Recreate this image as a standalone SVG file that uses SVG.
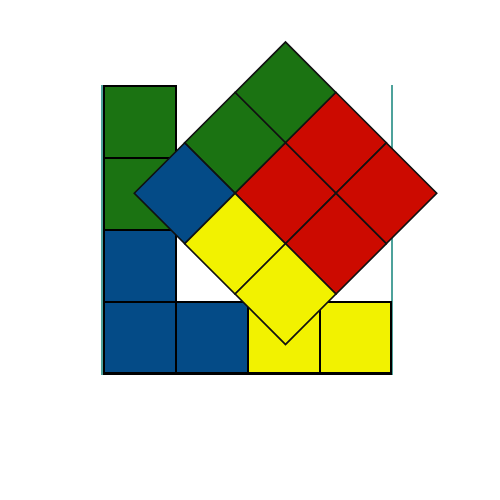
<svg xmlns="http://www.w3.org/2000/svg" width="500" height="500" viewBox="0 0 500 500">
<style>
.c{stroke:#000;stroke-width:2}
.r{stroke:#111;stroke-width:1.6}
.g{fill:#1b7312}
.b{fill:#044b87}
.y{fill:#f2f200}
.d{fill:#cc0a00}
.t{stroke:#13837a;stroke-width:1.5;fill:none}
</style>
<rect width="500" height="500" fill="#fff"/>
<g id="frame">
<line class="t" x1="102" y1="85" x2="102" y2="375"/>
<line class="t" x1="392" y1="85" x2="392" y2="375"/>
</g>
<g id="grid">
<rect id="l1" class="c g" x="104" y="86" width="72" height="72"/>
<rect id="l2" class="c g" x="104" y="158" width="72" height="72"/>
<rect id="l3" class="c b" x="104" y="230" width="72" height="72"/>
<rect id="l4" class="c b" x="104" y="302" width="72" height="72"/>
<rect id="b2" class="c b" x="176" y="302" width="72" height="72"/>
<rect id="b3" class="c y" x="248" y="302" width="72" height="72"/>
<rect id="b4" class="c y" x="320" y="302" width="71" height="72"/>
<line x1="103" y1="373.5" x2="392" y2="373.5" stroke="#000" stroke-width="3"/>
</g>
<g id="square" transform="translate(285.5,42) rotate(45)">
<rect class="r g" x="0" y="0" width="71.3" height="71.3"/>
<rect class="r d" x="71.3" y="0" width="71.3" height="71.3"/>
<rect class="r d" x="142.6" y="0" width="71.3" height="71.3"/>
<rect class="r g" x="0" y="71.3" width="71.3" height="71.3"/>
<rect class="r d" x="71.3" y="71.3" width="71.3" height="71.3"/>
<rect class="r d" x="142.6" y="71.3" width="71.3" height="71.3"/>
<rect class="r b" x="0" y="142.6" width="71.3" height="71.3"/>
<rect class="r y" x="71.3" y="142.6" width="71.3" height="71.3"/>
<rect class="r y" x="142.6" y="142.6" width="71.3" height="71.3"/>
</g>
</svg>
